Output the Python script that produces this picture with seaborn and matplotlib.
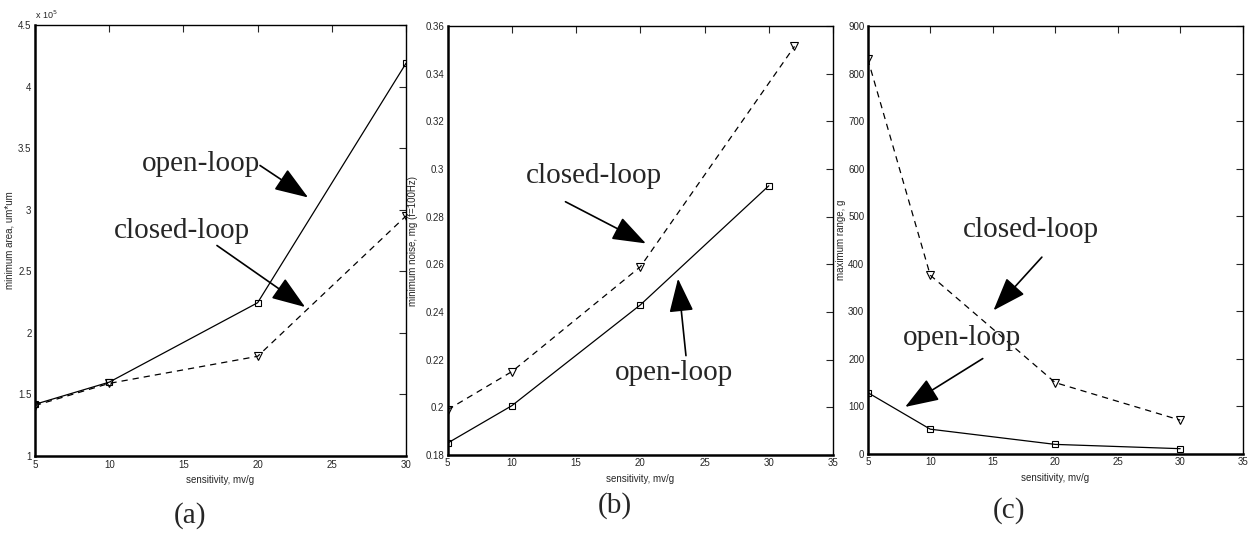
import numpy as np
import pandas as pd
import matplotlib
matplotlib.use('Agg')
import matplotlib.pyplot as plt
import seaborn as sns

# sensitivity values (mv/g)
sens = [5, 10, 20, 30]
sens_b_closed = [5, 10, 20, 32]

# (a) minimum area, x 1e5 um*um
area_open = [1.42, 1.60, 2.245, 4.19]
area_closed = [1.41, 1.59, 1.81, 2.95]

# (b) minimum noise, mg (f=100Hz)
noise_open = [0.185, 0.2007, 0.243, 0.293]
noise_closed = [0.199, 0.215, 0.259, 0.3515]

# (c) maximum range, g
range_open = [129, 52, 20, 11]
range_closed = [831, 376, 150, 71]

sns.set_style('white')
plt.rcParams['font.family'] = ['Liberation Sans Narrow', 'Liberation Sans', 'DejaVu Sans']
plt.rcParams['axes.linewidth'] = 1.0

fig = plt.figure(figsize=(12.54, 5.34), dpi=100)
ax_a = fig.add_axes([0.0279, 0.146, 0.2959, 0.807])
ax_b = fig.add_axes([0.357, 0.148, 0.3073, 0.803])
ax_c = fig.add_axes([0.692, 0.150, 0.299, 0.801])

serif = 'Liberation Serif'
ann_size = 21
small = 7.0
arrow = dict(arrowstyle='-|>,head_length=1.05,head_width=0.38', color='black',
             lw=1.2, mutation_scale=20, shrinkA=0, shrinkB=0)


def draw(ax, xo, yo, xc, yc):
    sns.lineplot(x=xo, y=yo, ax=ax, color='black', lw=0.9, marker='s', ms=5,
                 markerfacecolor='none', markeredgecolor='black', mew=0.8)
    sns.lineplot(x=xc, y=yc, ax=ax, color='black', lw=0.9, ls=(0, (5, 4)), marker='v', ms=6,
                 markerfacecolor='none', markeredgecolor='black', mew=0.8)
    ax.tick_params(direction='in', top=True, right=True, length=5, width=0.8,
                   labelsize=small, pad=2.5)
    ax.set_xlabel('sensitivity, mv/g', fontsize=small, labelpad=4)
    for s in ax.spines.values():
        s.set_visible(True)
        s.set_color('black')
    ax.spines['bottom'].set_linewidth(1.8)
    ax.spines['left'].set_linewidth(1.8)


def fmt(v, pos):
    return '%g' % round(v, 2)


# (a)
draw(ax_a, sens, area_open, sens, area_closed)
ax_a.set_xlim(5, 30)
ax_a.set_ylim(1, 4.5)
ax_a.set_xticks(np.arange(5, 31, 5))
ax_a.set_yticks(np.arange(1, 4.51, 0.5))
ax_a.yaxis.set_major_formatter(plt.FuncFormatter(fmt))
ax_a.set_ylabel('minimum area, um*um', fontsize=small)
ax_a.yaxis.set_label_coords(-0.054, 0.5)
ax_a.text(0.0, 1.01, 'x 10$^5$', transform=ax_a.transAxes, fontsize=6.5, va='bottom')
ax_a.text(16.19, 3.37, 'open-loop', family=serif, fontsize=ann_size, ha='center', va='center')
ax_a.annotate('', xy=(23.4, 3.10), xytext=(20.16, 3.36), arrowprops=arrow)
ax_a.text(14.9, 2.83, 'closed-loop', family=serif, fontsize=ann_size, ha='center', va='center')
ax_a.annotate('', xy=(23.2, 2.21), xytext=(17.26, 2.71), arrowprops=arrow)

# (b)
draw(ax_b, sens, noise_open, sens_b_closed, noise_closed)
ax_b.set_xlim(5, 35)
ax_b.set_ylim(0.18, 0.36)
ax_b.set_xticks(np.arange(5, 36, 5))
ax_b.set_yticks(np.arange(0.18, 0.3601, 0.02))
ax_b.yaxis.set_major_formatter(plt.FuncFormatter(fmt))
ax_b.set_ylabel('minimum noise, mg (f=100Hz)', fontsize=small)
ax_b.yaxis.set_label_coords(-0.076, 0.5)
ax_b.text(16.36, 0.297, 'closed-loop', family=serif, fontsize=ann_size, ha='center', va='center')
ax_b.annotate('', xy=(20.43, 0.2688), xytext=(14.17, 0.2863), arrowprops=arrow)
ax_b.text(22.6, 0.2143, 'open-loop', family=serif, fontsize=ann_size, ha='center', va='center')
ax_b.annotate('', xy=(22.93, 0.254), xytext=(23.55, 0.2217), arrowprops=arrow)

# (c)
draw(ax_c, sens, range_open, sens, range_closed)
ax_c.set_xlim(5, 35)
ax_c.set_ylim(0, 900)
ax_c.set_xticks(np.arange(5, 36, 5))
ax_c.set_yticks(np.arange(0, 901, 100))
ax_c.set_ylabel('maximum range, g', fontsize=small)
ax_c.yaxis.set_label_coords(-0.058, 0.5)
ax_c.text(18.03, 472, 'closed-loop', family=serif, fontsize=ann_size, ha='center', va='center')
ax_c.annotate('', xy=(15.06, 302), xytext=(18.93, 414), arrowprops=arrow)
ax_c.text(12.53, 244, 'open-loop', family=serif, fontsize=ann_size, ha='center', va='center')
ax_c.annotate('', xy=(7.99, 98.8), xytext=(14.2, 200.6), arrowprops=arrow)

# panel labels
fig.text(190 / 1254, 1 - 516 / 534, '(a)', family=serif, fontsize=ann_size, ha='center', va='center')
fig.text(615 / 1254, 1 - 506 / 534, '(b)', family=serif, fontsize=ann_size, ha='center', va='center')
fig.text(1009 / 1254, 1 - 511 / 534, '(c)', family=serif, fontsize=ann_size, ha='center', va='center')

fig.savefig('out.png', dpi=100)
